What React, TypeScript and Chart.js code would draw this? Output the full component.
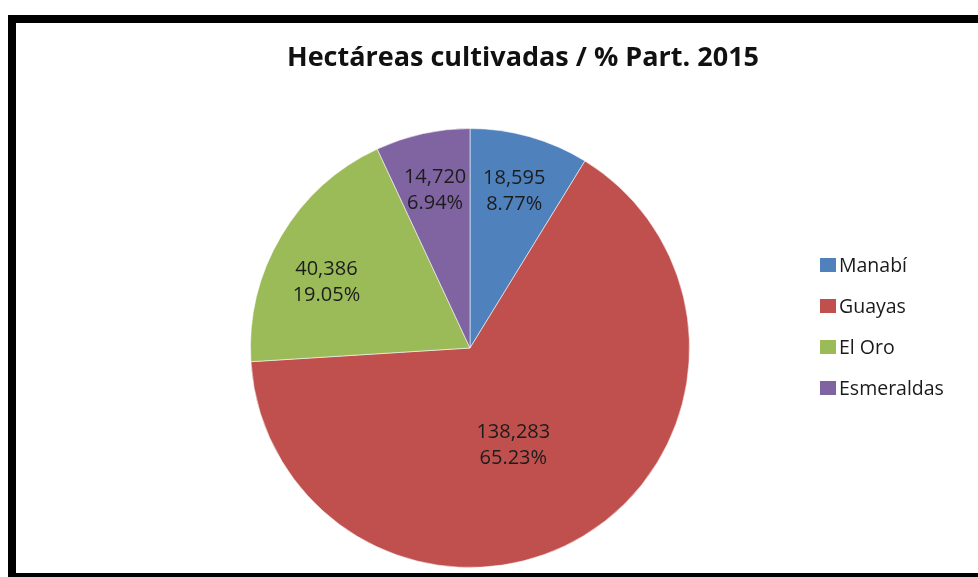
import React, { useEffect, useRef } from "react";
import { Chart, registerables } from "chart.js";

Chart.register(...registerables);

const categories = ["Manabí", "Guayas", "El Oro", "Esmeraldas"];
const hectares = [18595, 138283, 40386, 14720];
const sliceColors = ["#4F81BD", "#C0504D", "#9BBB59", "#8064A2"];
const titleText = "Hectáreas cultivadas / % Part. 2015";

const FONT = "'Open Sans', 'Noto Sans', sans-serif";
const labelRadialFraction = [0.74, 0.485, 0.72, 0.735];
const labelAngleShiftDeg = [0, 7, -6, 0];

const overlayPlugin = {
  id: "overlay",
  afterDatasetsDraw(chart: any) {
    const ctx = chart.ctx;
    const meta = chart.getDatasetMeta(0);
    const data: number[] = chart.data.datasets[0].data;
    const total = data.reduce((a, b) => a + b, 0);
    ctx.save();
    ctx.fillStyle = "#1c1c1c";
    ctx.font = `20px ${FONT}`;
    ctx.textAlign = "center";
    ctx.textBaseline = "middle";
    meta.data.forEach((arc: any, i: number) => {
      const p = arc.getProps(["x", "y", "startAngle", "endAngle", "outerRadius"], true);
      const mid = (p.startAngle + p.endAngle) / 2 + (labelAngleShiftDeg[i] * Math.PI) / 180;
      const r = p.outerRadius * labelRadialFraction[i];
      const cx = p.x + Math.cos(mid) * r;
      const cy = p.y + Math.sin(mid) * r;
      const v = data[i];
      ctx.fillText(v.toLocaleString("en-US"), cx, cy - 13);
      ctx.fillText(((v / total) * 100).toFixed(2) + "%", cx, cy + 13);
    });
    ctx.restore();
  },
  afterDraw(chart: any) {
    const ctx = chart.ctx;
    ctx.save();
    // title
    ctx.fillStyle = "#111";
    ctx.font = `bold 27px ${FONT}`;
    ctx.textAlign = "center";
    ctx.textBaseline = "alphabetic";
    ctx.fillText(titleText, 507, 43);
    // legend
    const labels: string[] = chart.data.labels;
    const colors: string[] = chart.data.datasets[0].backgroundColor;
    ctx.font = `19.5px ${FONT}`;
    ctx.textAlign = "left";
    ctx.textBaseline = "middle";
    labels.forEach((lab, i) => {
      const y = 242 + i * 41;
      ctx.fillStyle = colors[i];
      ctx.fillRect(804, y - 7, 16, 14);
      ctx.fillStyle = "#1a1a1a";
      ctx.fillText(lab, 823, y + 1);
    });
    ctx.restore();
  },
};

export default function App() {
  const ref = useRef<HTMLCanvasElement>(null);
  useEffect(() => {
    if (!ref.current) return;
    const chart = new Chart(ref.current, {
      type: "pie",
      data: {
        labels: categories,
        datasets: [
          {
            data: hectares,
            backgroundColor: sliceColors,
            borderColor: "rgba(255,255,255,0.55)",
            borderWidth: 1,
          },
        ],
      },
      options: {
        animation: false,
        responsive: false,
        maintainAspectRatio: false,
        layout: { padding: { left: 233, right: 287, top: 105, bottom: 5 } },
        plugins: {
          legend: { display: false },
          title: { display: false },
          tooltip: { enabled: false },
        },
      },
      plugins: [overlayPlugin],
    });
    return () => chart.destroy();
  }, []);

  return (
    <div
      style={{
        position: "absolute",
        left: 8,
        top: 15,
        width: 970,
        height: 562,
        boxSizing: "border-box",
        borderTop: "8px solid #000",
        borderLeft: "8px solid #000",
        borderBottom: "4px solid #000",
        background: "#fff",
        overflow: "hidden",
      }}
    >
      <canvas ref={ref} width={962} height={550} style={{ display: "block" }} />
    </div>
  );
}
